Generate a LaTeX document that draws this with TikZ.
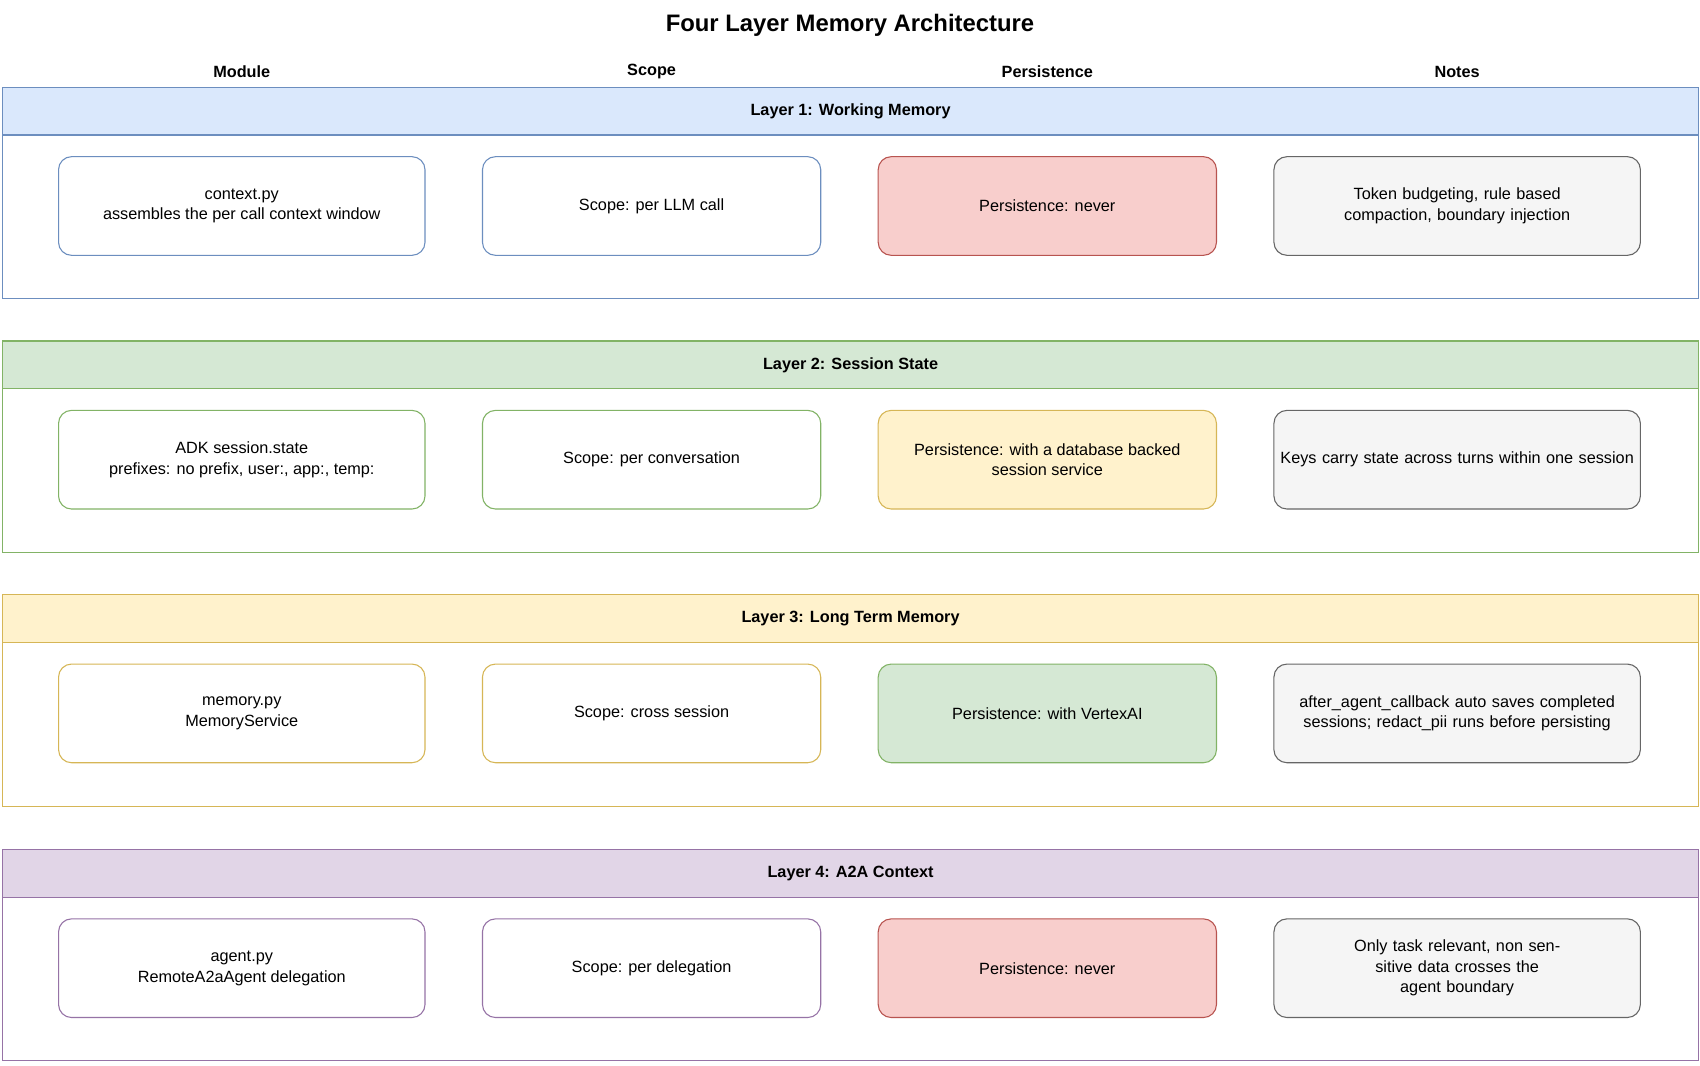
\documentclass[tikz,border=0pt]{standalone}
\usepackage{fontspec}
\setmainfont{Liberation Sans}
\definecolor{blueF}{HTML}{DAE8FC}\definecolor{blueD}{HTML}{6C8EBF}
\definecolor{greenF}{HTML}{D5E8D4}\definecolor{greenD}{HTML}{82B366}
\definecolor{yellowF}{HTML}{FFF2CC}\definecolor{yellowD}{HTML}{D6B656}
\definecolor{purpleF}{HTML}{E1D5E7}\definecolor{purpleD}{HTML}{9673A6}
\definecolor{redF}{HTML}{F8CECC}\definecolor{redD}{HTML}{B85450}
\definecolor{grayF}{HTML}{F5F5F5}\definecolor{grayD}{HTML}{666666}
\tikzset{
  cell/.style={draw, rounded corners=12pt, line width=1pt, minimum height=91pt,
    align=center, font=\fontsize{15}{19}\selectfont},
  band/.style={draw, line width=1pt, anchor=north west, minimum width=1564pt, inner sep=0pt},
  colhead/.style={font=\fontsize{15}{18}\selectfont\bfseries},
}
\begin{document}
\begin{tikzpicture}[x=1pt,y=-1pt]
  \useasboundingbox (0,0) rectangle (1568,983);
  \node[font=\fontsize{22}{26}\selectfont\bfseries] (title) at (784,23) {Four Layer Memory Architecture};
  \node[colhead] (hmod) at (223,66) {Module};
  \node[colhead] (hscope) at (601,66) {Scope};
  \node[colhead] (hpers) at (966,66) {Persistence};
  \node[colhead] (hnotes) at (1344,66) {Notes};
  % layers
  \foreach \i/\ly/\lc/\lname/\pc/\tmod/\tscope/\tpers/\tnotes in {
    1/80/blue/{Layer 1: Working Memory}/red/{context.py\\assembles the per call context window}/{Scope: per LLM call}/{Persistence: never}/{Token budgeting, rule based compaction, boundary injection},
    2/314/green/{Layer 2: Session State}/yellow/{ADK session.state\\prefixes: no prefix, user:, app:, temp:}/{Scope: per conversation}/{Persistence: with a database backed\\session service}/{Keys carry state across turns within one session},
    3/548/yellow/{Layer 3: Long Term Memory}/green/{memory.py\\MemoryService}/{Scope: cross session}/{Persistence: with VertexAI}/{after\_agent\_callback auto saves completed\\sessions; redact\_pii runs before persisting},
    4/783/purple/{Layer 4: A2A Context}/red/{agent.py\\RemoteA2aAgent delegation}/{Scope: per delegation}/{Persistence: never}/{Only task relevant, non sensitive data crosses the\\agent boundary}} {
    \node[band, draw=\lc D, minimum height=195pt] (band\i) at (2,\ly) {};
    \node[band, draw=\lc D, fill=\lc F, minimum height=44pt] (head\i) at (2,\ly) {};
    \node[font=\fontsize{15}{18}\selectfont\bfseries] (label\i) at (head\i.center) {\lname};
    \node[cell, draw=\lc D, fill=white, minimum width=338pt] (mod\i) at (223,\ly+110) {\tmod};
    \node[cell, draw=\lc D, fill=white, minimum width=312pt] (scope\i) at (601,\ly+110) {\tscope};
    \node[cell, draw=\pc D, fill=\pc F, minimum width=312pt] (pers\i) at (966,\ly+110) {\tpers};
    \node[cell, draw=grayD, fill=grayF, minimum width=338pt, text width=330pt] (notes\i) at (1344,\ly+110) {\tnotes};
  }
\end{tikzpicture}
\end{document}
